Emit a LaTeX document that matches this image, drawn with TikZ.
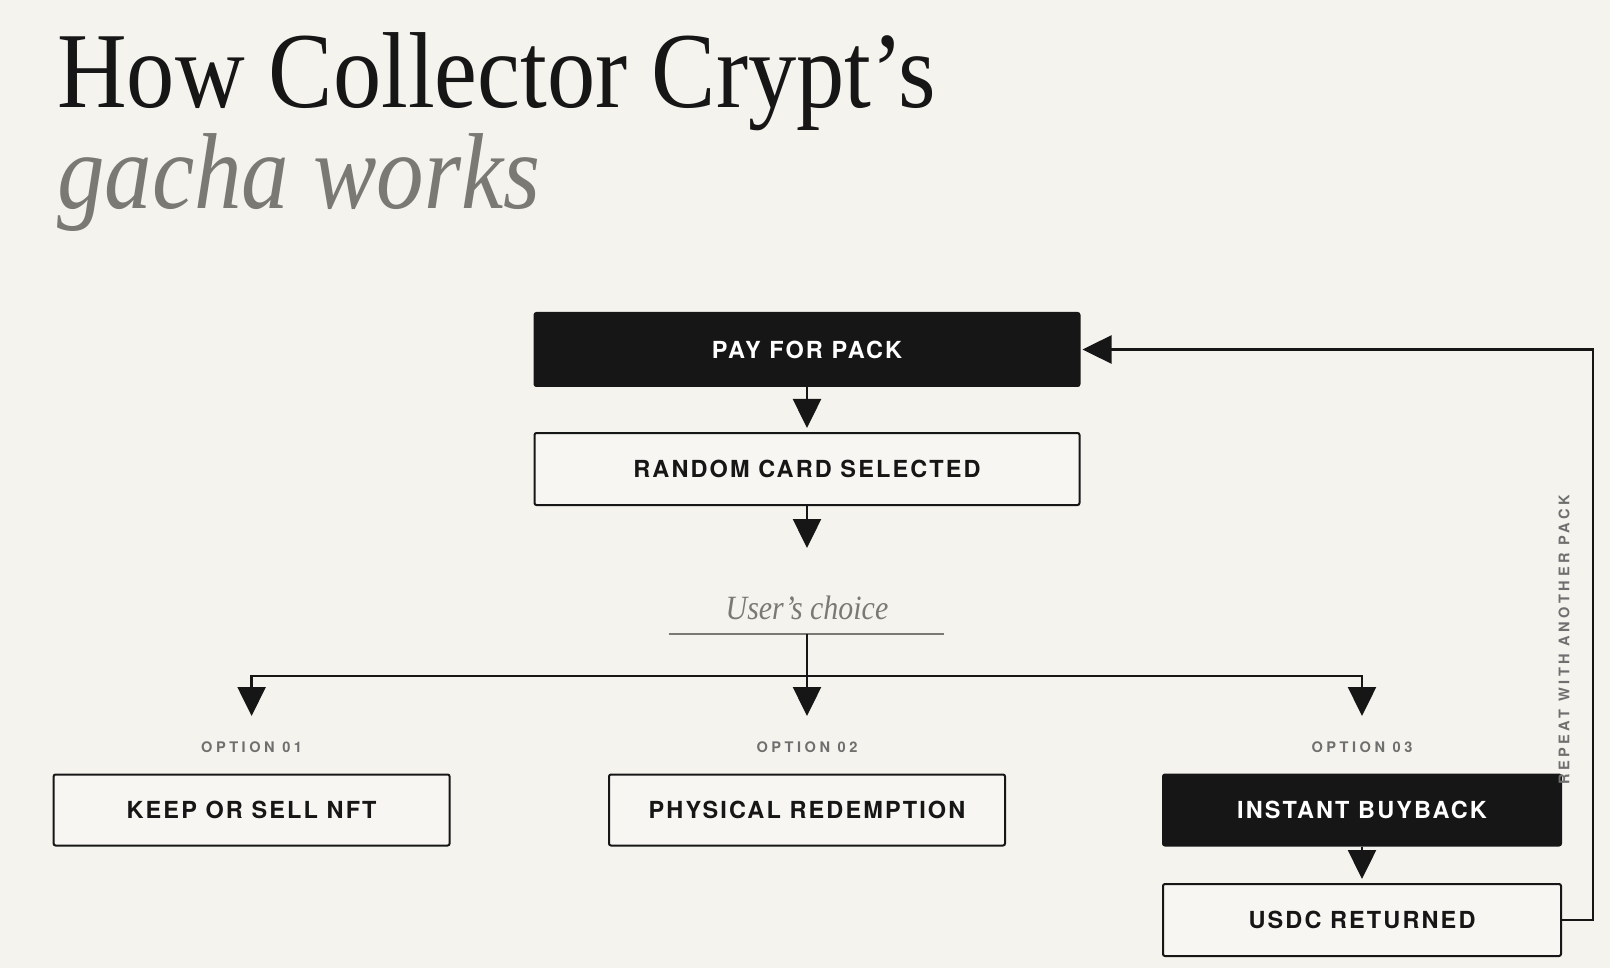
\documentclass[tikz,border=0pt]{standalone}
\usepackage{fontspec}
\usetikzlibrary{arrows.meta}
\newfontfamily\titlefont[FakeStretch=0.893]{Liberation Serif}
\newfontfamily\italfont[FakeStretch=0.88]{Liberation Serif}
\newfontfamily\boxfont[LetterSpace=9]{TeX Gyre Heros}
\newfontfamily\labfont[LetterSpace=24]{TeX Gyre Heros}
\definecolor{bgc}{HTML}{F5F3EE}
\definecolor{ink}{HTML}{161616}
\definecolor{boxbg}{HTML}{F8F6F2}
\definecolor{soft}{HTML}{6F6F6F}
\definecolor{titlegray}{HTML}{7B7974}
\tikzset{
  basebox/.style={rectangle, rounded corners=2pt, line width=2pt, draw=ink,
    minimum width=396pt, minimum height=71pt, inner sep=0pt,
    font=\boxfont\bfseries\fontsize{23.5}{26}\selectfont},
  darkbox/.style={basebox, fill=ink, text=white},
  lightbox/.style={basebox, fill=boxbg, text=ink},
  optlabel/.style={inner sep=0pt, text=soft, font=\labfont\bfseries\fontsize{14.6}{16}\selectfont},
  conn/.style={draw=ink, line width=2.5pt, line join=miter},
  arrow/.style={conn, -{Triangle[length=29pt,width=28pt]}},
}
\begin{document}
\begin{tikzpicture}[x=1pt,y=-1pt]
\fill[bgc] (0,0) rectangle (1610,968);
\useasboundingbox (0,0) rectangle (1610,968);

% title
\node[anchor=base west, inner sep=0pt, text=ink,
  font=\titlefont\fontsize{108}{110}\selectfont] (t1) at (57,108) {How Collector Crypt’s};
\node[anchor=base west, inner sep=0pt, text=titlegray,
  font=\italfont\itshape\fontsize{108}{110}\selectfont] (t2) at (57,208.5) {gacha works};

% main flow
\node[darkbox, minimum width=545pt, minimum height=73pt] (pay) at (807,349.5) {PAY FOR PACK};
\node[lightbox, minimum width=545pt, minimum height=72pt] (random) at (807,469) {RANDOM CARD SELECTED};
\coordinate (tip2) at (807,548);

\node[inner sep=0pt, text=titlegray, font=\italfont\itshape\fontsize{34}{36}\selectfont]
  (choice) at (807,608) {User’s choice};
\coordinate (ulL) at (668.5,633.5);
\coordinate (ulR) at (943.6,633.5);
\coordinate (split) at (807,633.5);
\coordinate (hub) at (807,676);
\coordinate (tL) at (251.6,716);
\coordinate (tM) at (807,716);
\coordinate (tR) at (1362,716);

\node[optlabel] (o1) at (251.6,747.5) {OPTION 01};
\node[optlabel] (o2) at (807,747.5) {OPTION 02};
\node[optlabel] (o3) at (1362,747.5) {OPTION 03};

\node[lightbox] (keep) at (251.6,810) {KEEP OR SELL NFT};
\node[lightbox] (phys) at (807,810) {PHYSICAL REDEMPTION};
\node[darkbox, minimum width=398pt] (buy) at (1362,810) {INSTANT BUYBACK};
\node[lightbox, minimum width=398pt, minimum height=72pt] (usdc) at (1362,920) {USDC RETURNED};

\node[optlabel, rotate=90] (repeat) at (1564,640) {REPEAT WITH ANOTHER PACK};

% connectors
\draw[arrow, shorten >=4pt] (pay.south) -- (random.north);
\draw[arrow] (random.south) -- (tip2);
\draw[draw=titlegray, line width=2pt] (ulL) -- (ulR);
\draw[conn] (split) -- (hub);
\draw[arrow] (hub) -| (tL);
\draw[arrow] (hub) -- (tM);
\draw[arrow] (hub) -| (tR);
\draw[arrow, shorten >=4pt] (buy.south) -- (usdc.north);
\coordinate (loopx) at (1593,0);
\draw[arrow, shorten >=2pt] (usdc.east) -- (usdc.east -| loopx) -- (pay.east -| loopx) -- (pay.east);
\end{tikzpicture}
\end{document}
